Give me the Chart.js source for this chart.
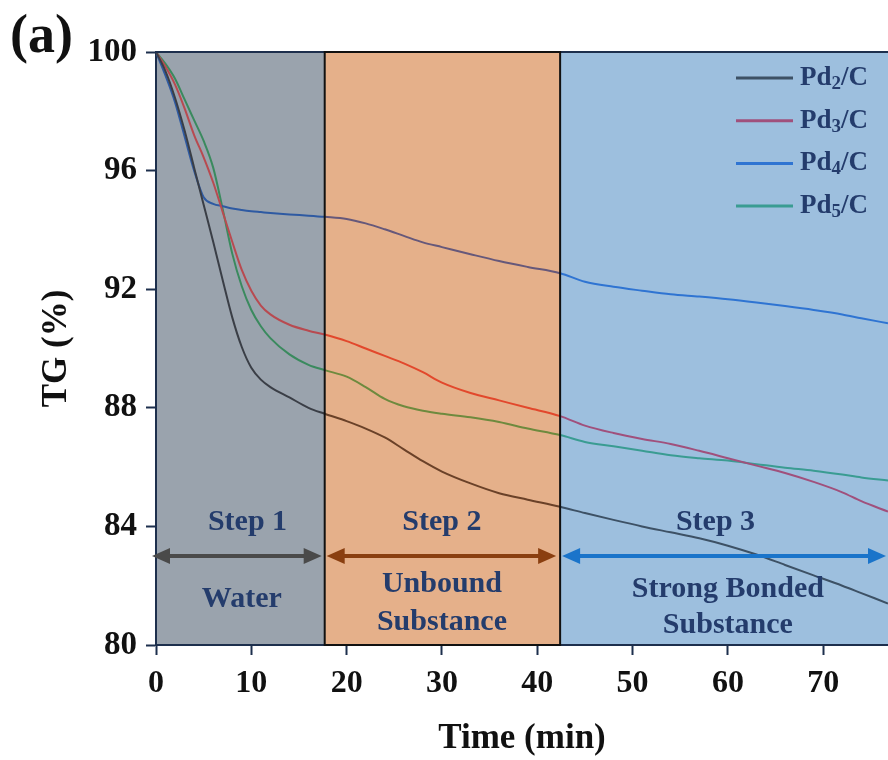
<!DOCTYPE html>
<html>
<head>
<meta charset="utf-8">
<script src="https://cdn.jsdelivr.net/npm/chart.js@4.4.1/dist/chart.umd.min.js"></script>
<style>
  html, body { margin: 0; padding: 0; background: #fff; }
</style>
</head>
<body>
<canvas id="tgChart" width="888" height="760"></canvas>
<script>
// time grid (min) shared by all curves
const time = [0, 1, 2, 3, 4, 5, 6, 7, 8, 9, 10, 11, 12, 14, 16, 17.7, 20, 22, 24, 26, 28, 30, 33, 36, 39, 42.4, 45, 48, 51, 54, 57, 60, 63, 66, 69, 72, 74, 76.8];

// TG (%)
const pd2 = [100, 99.35, 98.45, 97.35, 96.1, 94.85, 93.6, 92.3, 91.05, 90.05, 89.35, 88.95, 88.7, 88.35, 88.0, 87.8, 87.55, 87.3, 87.0, 86.6, 86.2, 85.85, 85.45, 85.12, 84.9, 84.66, 84.45, 84.22, 84.0, 83.8, 83.6, 83.35, 83.05, 82.7, 82.35, 82.0, 81.75, 81.4];
const pd3 = [100, 99.5, 98.9, 98.1, 97.2, 96.45, 95.6, 94.6, 93.6, 92.65, 91.95, 91.45, 91.15, 90.8, 90.6, 90.47, 90.25, 90.0, 89.75, 89.5, 89.2, 88.85, 88.5, 88.25, 88.0, 87.72, 87.4, 87.15, 86.95, 86.78, 86.55, 86.3, 86.05, 85.8, 85.5, 85.15, 84.85, 84.5];
const pd4 = [100, 99.2, 98.3, 97.15, 96.0, 95.1, 94.88, 94.8, 94.72, 94.67, 94.63, 94.6, 94.57, 94.52, 94.48, 94.44, 94.37, 94.22, 94.02, 93.8, 93.58, 93.42, 93.18, 92.95, 92.75, 92.54, 92.25, 92.08, 91.95, 91.83, 91.75, 91.66, 91.55, 91.43, 91.3, 91.15, 91.02, 90.85];
const pd5 = [100, 99.6, 99.1, 98.4, 97.7, 97.0, 96.1, 94.7, 93.2, 92.1, 91.3, 90.75, 90.35, 89.8, 89.45, 89.27, 89.05, 88.7, 88.3, 88.05, 87.9, 87.8, 87.68, 87.52, 87.3, 87.08, 86.85, 86.7, 86.55, 86.4, 86.3, 86.22, 86.1, 85.98, 85.88, 85.75, 85.65, 85.55];

const seriesNames = ['Pd₂/C', 'Pd₃/C', 'Pd₄/C', 'Pd₅/C'];
const xTicks = [0, 10, 20, 30, 40, 50, 60, 70];
const yTicks = [80, 84, 88, 92, 96, 100];

// step bands
const stepEdges = [0, 17.7, 42.4, 76.8];
const stepTitles = ['Step 1', 'Step 2', 'Step 3'];
const stepNotes = [['Water'], ['Unbound', 'Substance'], ['Strong Bonded', 'Substance']];

// line colour in each band (the bands tint the curves)
const lineColors = [
  ['#3a3e46', '#6a4128', '#3d5165'],
  ['#b84a50', '#e2482c', '#a0507c'],
  ['#2e5aa2', '#66587a', '#2f74d2'],
  ['#3a8a5e', '#6e8a3e', '#3a9c92']
];
const bandColors = ['#9aa3ad', '#e5b08a', '#9dbfde'];
const arrowColors = ['#4a4a4a', '#8a3f10', '#1a74ca'];
const navy = '#1d2f4d';
const textBlue = '#243c6c';
const serif = '"Liberation Serif", "Times New Roman", serif';

function bandOf(x) {
  if (x < stepEdges[1]) return 0;
  if (x < stepEdges[2]) return 1;
  return 2;
}

const datasets = [pd2, pd3, pd4, pd5].map((vals, i) => ({
  label: seriesNames[i],
  data: time.map((t, k) => ({ x: t, y: vals[k] })),
  borderColor: lineColors[i][2],
  borderWidth: 2,
  pointRadius: 0,
  cubicInterpolationMode: 'monotone',
  segment: {
    borderColor: ctx => lineColors[i][bandOf(ctx.p0.parsed.x)]
  }
}));

const bands = {
  id: 'bands',
  beforeDraw(chart) {
    const { ctx, chartArea: a, scales: { x } } = chart;
    ctx.save();
    for (let i = 0; i < 3; i++) {
      const x0 = x.getPixelForValue(stepEdges[i]);
      const x1 = i === 2 ? a.right : x.getPixelForValue(stepEdges[i + 1]);
      ctx.fillStyle = bandColors[i];
      ctx.fillRect(x0, a.top, x1 - x0, a.bottom - a.top);
    }
    ctx.restore();
  }
};

function drawArrow(ctx, x0, x1, y, color) {
  const head = 18, half = 8;
  ctx.strokeStyle = color;
  ctx.fillStyle = color;
  ctx.lineWidth = 4;
  ctx.beginPath();
  ctx.moveTo(x0 + head - 2, y);
  ctx.lineTo(x1 - head + 2, y);
  ctx.stroke();
  ctx.beginPath();
  ctx.moveTo(x0, y);
  ctx.lineTo(x0 + head, y - half);
  ctx.lineTo(x0 + head, y + half);
  ctx.closePath();
  ctx.fill();
  ctx.beginPath();
  ctx.moveTo(x1, y);
  ctx.lineTo(x1 - head, y - half);
  ctx.lineTo(x1 - head, y + half);
  ctx.closePath();
  ctx.fill();
}

// draws "Pd₂/C" with a real lowered digit
function drawSubLabel(ctx, label, x, y, size) {
  const sub = { '₂': '2', '₃': '3', '₄': '4', '₅': '5' };
  let cx = x;
  for (const ch of label) {
    if (sub[ch]) {
      ctx.font = 'bold ' + Math.round(size * 0.72) + 'px ' + serif;
      ctx.fillText(sub[ch], cx, y + size * 0.22);
      cx += ctx.measureText(sub[ch]).width;
    } else {
      ctx.font = 'bold ' + size + 'px ' + serif;
      ctx.fillText(ch, cx, y);
      cx += ctx.measureText(ch).width;
    }
  }
}

const overlay = {
  id: 'overlay',
  afterDatasetsDraw(chart) {
    const { ctx, chartArea: a, scales: { x, y } } = chart;
    const e1 = x.getPixelForValue(stepEdges[1]);
    const e2 = x.getPixelForValue(stepEdges[2]);
    ctx.save();

    // frame
    ctx.strokeStyle = navy;
    ctx.lineWidth = 2;
    ctx.beginPath();
    ctx.moveTo(a.left, a.top);
    ctx.lineTo(a.right, a.top);
    ctx.stroke();
    ctx.strokeStyle = '#111';
    ctx.strokeRect(e1, a.top, e2 - e1, a.bottom - a.top);

    // arrows
    const ay = y.getPixelForValue(83);
    drawArrow(ctx, a.left - 4, e1 - 3, ay, arrowColors[0]);
    drawArrow(ctx, e1 + 2, e2 - 4, ay, arrowColors[1]);
    drawArrow(ctx, e2 + 2, a.right - 2, ay, arrowColors[2]);

    // step texts
    ctx.fillStyle = textBlue;
    ctx.textAlign = 'center';
    ctx.textBaseline = 'alphabetic';
    ctx.font = 'bold 30px ' + serif;
    const titleX = [9.6, 30.0, 58.7];
    const noteX = [9.0, 30.0, 60.0];
    const noteY = [[81.29], [81.8, 80.5], [81.63, 80.4]];
    for (let i = 0; i < 3; i++) {
      ctx.fillText(stepTitles[i], x.getPixelForValue(titleX[i]), y.getPixelForValue(83.88));
      stepNotes[i].forEach((line, k) => {
        ctx.fillText(line, x.getPixelForValue(noteX[i]), y.getPixelForValue(noteY[i][k]));
      });
    }

    // legend
    ctx.textAlign = 'left';
    ctx.textBaseline = 'middle';
    chart.data.datasets.forEach((ds, i) => {
      const ly = 78 + i * 42.7;
      ctx.strokeStyle = lineColors[i][2];
      ctx.lineWidth = 3;
      ctx.beginPath();
      ctx.moveTo(736, ly);
      ctx.lineTo(793, ly);
      ctx.stroke();
      ctx.fillStyle = textBlue;
      drawSubLabel(ctx, ds.label, 800, ly, 27);
    });

    // panel tag
    ctx.fillStyle = '#111';
    ctx.textBaseline = 'alphabetic';
    ctx.font = 'bold 54px ' + serif;
    ctx.fillText('(a)', 10, 52);
    ctx.restore();
  }
};

new Chart(document.getElementById('tgChart'), {
  type: 'line',
  data: { datasets: datasets },
  options: {
    responsive: false,
    animation: false,
    layout: { padding: { top: 52, right: 0, left: 0, bottom: 0 } },
    plugins: { legend: { display: false }, tooltip: { enabled: false } },
    scales: {
      x: {
        type: 'linear',
        min: 0,
        max: 76.8,
        afterBuildTicks: s => { s.ticks = xTicks.map(v => ({ value: v })); },
        afterFit: s => { s.height = 115; },
        border: { color: navy, width: 2 },
        grid: { drawOnChartArea: false, drawTicks: true, tickLength: 10, tickColor: navy, tickWidth: 2 },
        ticks: { color: '#111', padding: 10, font: { family: serif, size: 32, weight: 'bold' } },
        title: { display: true, text: 'Time (min)', color: '#111', padding: { top: 0, bottom: 0 },
                 font: { family: serif, size: 35, weight: 'bold' } }
      },
      y: {
        min: 80,
        max: 100,
        afterBuildTicks: s => { s.ticks = yTicks.map(v => ({ value: v })); },
        afterFit: s => { s.width = 156; },
        border: { color: navy, width: 2 },
        grid: { drawOnChartArea: false, drawTicks: true, tickLength: 10, tickColor: navy, tickWidth: 2 },
        ticks: { color: '#111', padding: 9, font: { family: serif, size: 33, weight: 'bold' } },
        title: { display: true, text: 'TG (%)', color: '#111', padding: { top: 36, bottom: 0 },
                 font: { family: serif, size: 35, weight: 'bold' } }
      }
    }
  },
  plugins: [bands, overlay]
});
</script>
</body>
</html>
